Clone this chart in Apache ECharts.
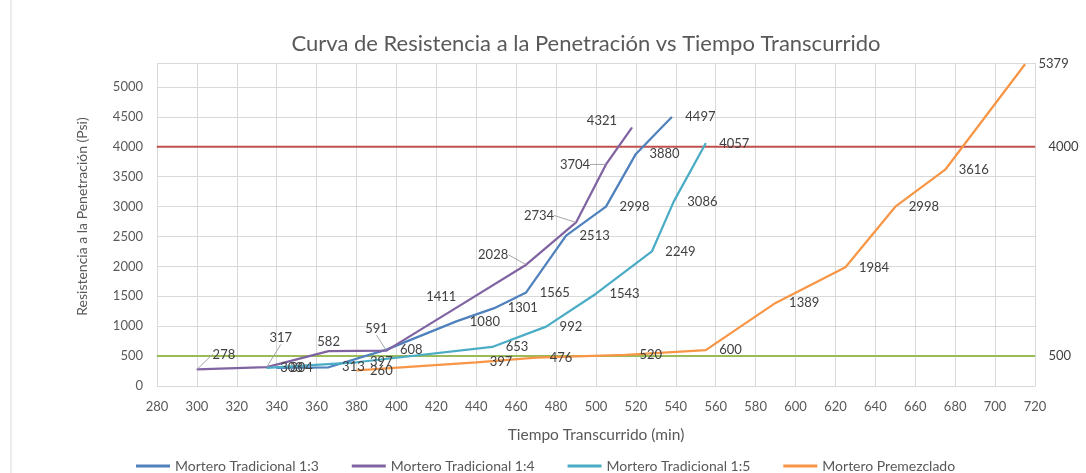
<!DOCTYPE html>
<html>
<head>
<meta charset="utf-8">
<script src="https://cdn.jsdelivr.net/npm/echarts@6/dist/echarts.min.js"></script>
<style>
html,body{margin:0;padding:0;background:#fff}
#chart{width:1086px;height:473px}
</style>
</head>
<body>
<div id="chart"></div>
<script>
// datos
var names = ['Mortero Tradicional 1:3', 'Mortero Tradicional 1:4', 'Mortero Tradicional 1:5', 'Mortero Premezclado'];

var tiempo13 = [340, 366, 395, 430, 449, 465, 485, 505, 520, 538];
var resist13 = [304, 313, 608, 1080, 1301, 1565, 2513, 2998, 3880, 4497];

var tiempo14 = [300, 335, 366, 395, 435, 465, 490, 505, 518];
var resist14 = [278, 317, 582, 591, 1411, 2028, 2734, 3704, 4321];

var tiempo15 = [335, 380, 448, 475, 500, 528, 539, 555];
var resist15 = [303, 397, 653, 992, 1543, 2249, 3086, 4057];

var tiempoPre = [380, 440, 470, 515, 555, 590, 625, 650, 675, 715];
var resistPre = [260, 397, 476, 520, 600, 1389, 1984, 2998, 3616, 5379];

var limiteX = [280, 720];
var limiteAlto = 4000;
var limiteBajo = 500;

var ejeX = {min: 280, max: 720, paso: 20};
var ejeY = {min: 0, max: 5000, paso: 500};

var font = 'Lato';
var gris = '#595959';
var colores = ['#4F81BD', '#8064A2', '#4BACC6', '#F79646'];

function puntos(xs, ys) {
    return xs.map(function (x, i) { return [x, ys[i]]; });
}

// etiquetas movidas a mano (como en Excel) para la serie 1:4
var mover14 = [[27, -15], [14, -29], [0, -9], [-10, -22], [-25, -5], [-33, -10], [-37, -7], [-31, 0], [-30, -7]];
var guia14 = [true, true, false, true, false, true, true, true, false];

function etiqueta() {
    return {
        show: true,
        position: 'right',
        distance: 13,
        color: '#404040',
        fontFamily: font,
        fontSize: 13,
        formatter: function (p) { return p.value[1]; }
    };
}

function serieCurva(i, xs, ys) {
    return {
        name: names[i],
        type: 'line',
        data: puntos(xs, ys),
        symbol: 'circle',
        symbolSize: 1,
        itemStyle: {color: colores[i]},
        lineStyle: {width: 2.25, color: colores[i]},
        label: etiqueta(),
        z: 3
    };
}

var s14 = serieCurva(1, tiempo14, resist14);
s14.label.position = 'inside';
s14.data = s14.data.map(function (d, i) {
    return {value: d, labelLine: {show: guia14[i]}};
});
s14.labelLine = {show: true, lineStyle: {color: '#A6A6A6', width: 1}};
s14.labelLayout = function (p) {
    var m = mover14[p.dataIndex];
    return {dx: m[0], dy: m[1]};
};

function serieLimite(valor, color) {
    var lab = etiqueta();
    lab.show = false;
    return {
        type: 'line',
        data: limiteX.map(function (x, i) {
            return {value: [x, valor], label: {show: i === limiteX.length - 1}};
        }),
        symbol: 'circle',
        symbolSize: 1,
        itemStyle: {color: color},
        lineStyle: {width: 2, color: color},
        label: lab,
        silent: true,
        z: 2
    };
}

var chart = echarts.init(document.getElementById('chart'));

var option = {
    backgroundColor: '#fff',
    animation: false,
    title: {
        text: 'Curva de Resistencia a la Penetración vs Tiempo Transcurrido',
        left: 581,
        top: 28,
        textAlign: 'center',
        textStyle: {fontFamily: font, fontSize: 22, fontWeight: 'normal', color: gris}
    },
    legend: {
        data: names,
        top: 454,
        left: 131,
        icon: 'rect',
        itemWidth: 34,
        itemHeight: 3,
        itemGap: 33,
        textStyle: {fontFamily: font, fontSize: 14, color: gris}
    },
    grid: {left: 157, right: 51, top: 63, bottom: 87, containLabel: false},
    xAxis: {
        type: 'value',
        min: ejeX.min,
        max: ejeX.max,
        interval: ejeX.paso,
        name: 'Tiempo Transcurrido (min)',
        nameLocation: 'middle',
        nameGap: 41,
        nameTextStyle: {fontFamily: font, fontSize: 15.5, color: gris},
        axisLine: {show: true, lineStyle: {color: '#D9D9D9', width: 1}},
        axisTick: {show: false},
        axisLabel: {fontFamily: font, fontSize: 13, color: gris, margin: 14},
        splitLine: {show: true, lineStyle: {color: '#D9D9D9', width: 1}}
    },
    yAxis: {
        type: 'value',
        min: ejeY.min,
        max: 5400,
        interval: ejeY.paso,
        name: 'Resistencia a la Penetración (Psi)',
        nameLocation: 'middle',
        nameGap: 68,
        nameTextStyle: {fontFamily: font, fontSize: 14, color: gris, padding: [0, 0, 0, 16]},
        axisLine: {show: false},
        axisTick: {show: false},
        axisLabel: {
            fontFamily: font, fontSize: 13, color: gris, margin: 14, showMaxLabel: false,
            formatter: function (v) { return String(v); }
        },
        splitLine: {show: true, lineStyle: {color: '#D9D9D9', width: 1}}
    },
    graphic: [{
        type: 'line',
        shape: {x1: 11, y1: 0, x2: 11, y2: 473},
        style: {stroke: '#D9D9D9', lineWidth: 1}
    }],
    series: [
        serieLimite(limiteAlto, '#C0504D'),
        serieLimite(limiteBajo, '#9BBB59'),
        serieCurva(0, tiempo13, resist13),
        s14,
        serieCurva(2, tiempo15, resist15),
        serieCurva(3, tiempoPre, resistPre)
    ]
};

chart.setOption(option);
</script>
</body>
</html>
